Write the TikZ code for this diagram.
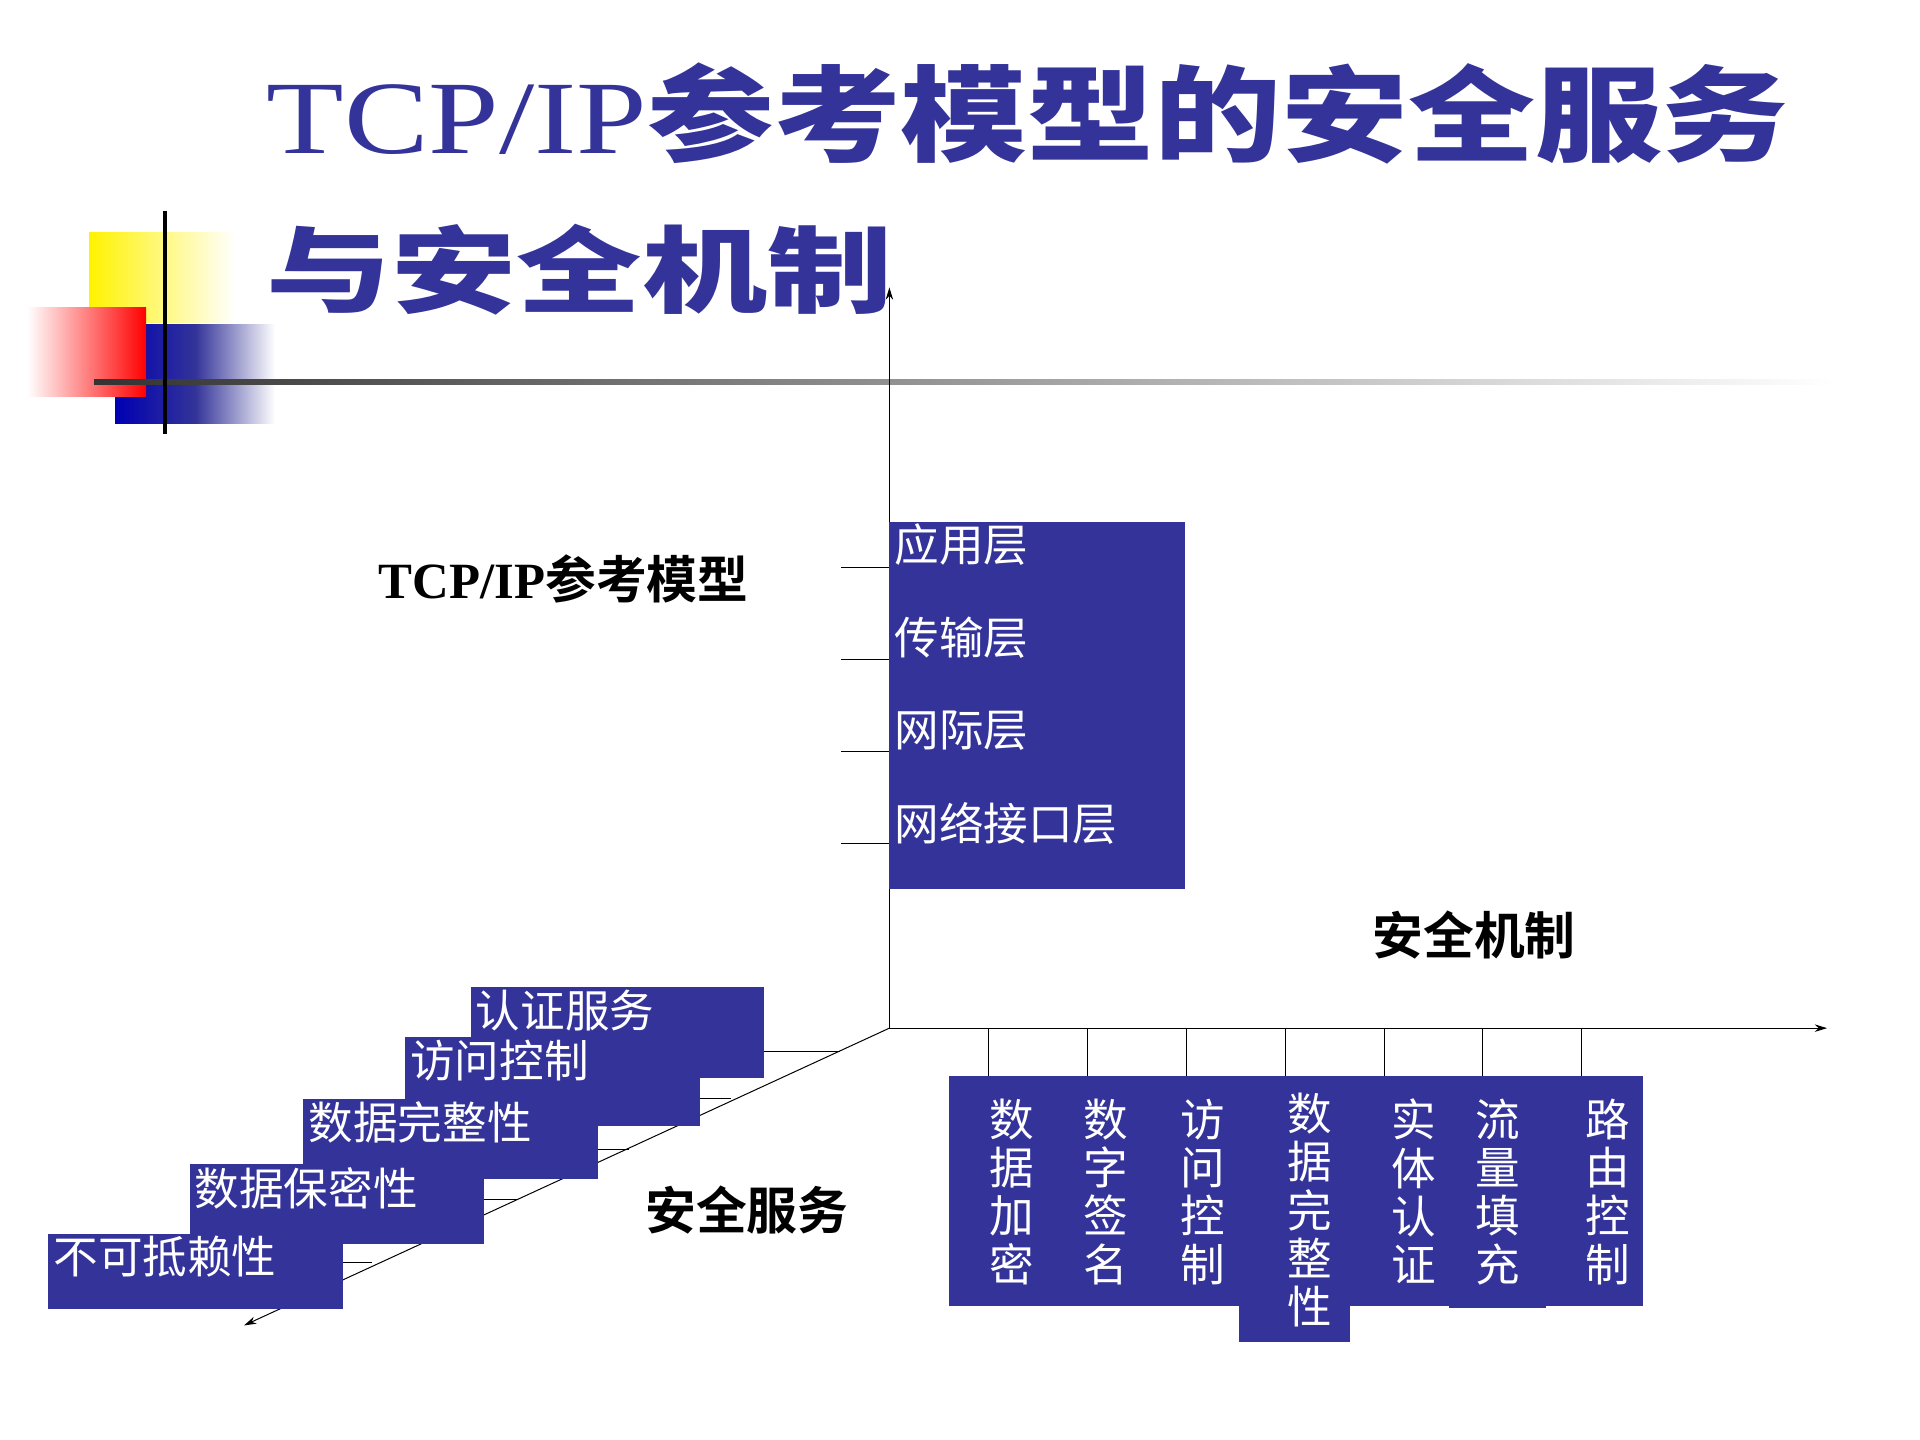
\documentclass[tikz,border=0pt]{standalone}
\usepackage{fontspec}
\usepackage{graphicx}
\setmainfont{Liberation Serif}
\newfontfamily\cjk{Noto Sans CJK SC}
\newfontfamily\cjkb{Noto Sans CJK SC Black}
\usetikzlibrary{arrows.meta}
\definecolor{nb}{HTML}{333399}
\begin{document}
\begin{tikzpicture}[x=1pt,y=-1pt,
  box/.style={fill=nb,draw=none},
  wt/.style={text=white,font=\cjk\fontsize{36}{39}\selectfont,inner sep=0pt},
  bl/.style={font=\bfseries\fontsize{41}{44}\selectfont,inner sep=0pt},
  ax/.style={draw=black,line width=0.8pt,-{Stealth[length=10pt,width=6pt]}},
  tk/.style={draw=black,line width=0.8pt}]
\useasboundingbox (0,0) rectangle (1550,1162);
% decorations
\shade[left color=yellow!90!orange,right color=white] (72,188) rectangle (190,260);
\shade[left color=blue!70!black,right color=white,middle color=nb] (93,262) rectangle (222,342);
\shade[left color=white,right color=red] (22,248) rectangle (118,320);
\shade[left color=black!80,right color=white] (76,306) rectangle (1480,310);
\draw[line width=3pt] (133,170) -- (133,350);
% title
\node[anchor=west,inner sep=0pt,text=nb] (t1) at (215,92) {\scalebox{1.28}[1.05]{\fontsize{80}{80}\selectfont TCP/IP{\cjkb 参考模型的安全服务}}};
\node[anchor=west,inner sep=0pt,text=nb] (t2) at (215,218) {\scalebox{1.33}[1]{\cjkb\fontsize{76}{80}\selectfont 与安全机制}};
% axes
\coordinate (o) at (718,830);
\coordinate (ya) at (718,232);
\coordinate (xa) at (1475,830);
\coordinate (za) at (197,1070);
\draw[ax] (o) -- (ya);
\draw[ax] (o) -- (xa);
\draw[ax] (o) -- (za);
% layers
\fill[box] (718,421) rectangle (957,718);
\foreach \t/\y in {应用层/440,传输层/515,网际层/590,网络接口层/665}
  \node[wt,anchor=west] at (722,\y) {\t};
\foreach \y in {458,532,607,681} \draw[tk] (679,\y) -- (718,\y);
\node[bl] (l1) at (455,467) {TCP/IP{\cjkb 参考模型}};
\node[bl] (l2) at (1190,755) {\cjkb 安全机制};
\node[bl] (l3) at (603,977) {\cjkb 安全服务};
% services
\foreach \t/\xa/\ya/\xb/\yb/\ty/\tx in {认证服务/380/797/617/870/849/678,访问控制/327/837/565/909/887/590,数据完整性/245/887/483/952/928/508,数据保密性/153/940/391/1004/968/418,不可抵赖性/39/996/277/1057/1019/300}{
  \draw[tk] (\xb,\ty) -- (\tx,\ty);
  \fill[box] (\xa,\ya) rectangle (\xb,\yb);
  \node[wt,anchor=north west] at (\xa+4,\ya+2) {\t};
}
% mechanisms
\fill[box] (766,869) rectangle (1326,1054);
\fill[box] (1000,1050) rectangle (1090,1083);
\fill[box] (1170,1050) rectangle (1248,1056);
\foreach \x in {798,878,958,1038,1118,1197,1277} \draw[tk] (\x,830) -- (\x,869);
\foreach \t/\x/\y in {{数\\据\\加\\密}/817/962,{数\\字\\签\\名}/893/962,{访\\问\\控\\制}/971/962,{数\\据\\完\\整\\性}/1057/977,{实\\体\\认\\证}/1141/962,{流\\量\\填\\充}/1209/962,{路\\由\\控\\制}/1298/962}
  \node[wt,align=center] at (\x,\y) {\t};
\end{tikzpicture}
\end{document}
